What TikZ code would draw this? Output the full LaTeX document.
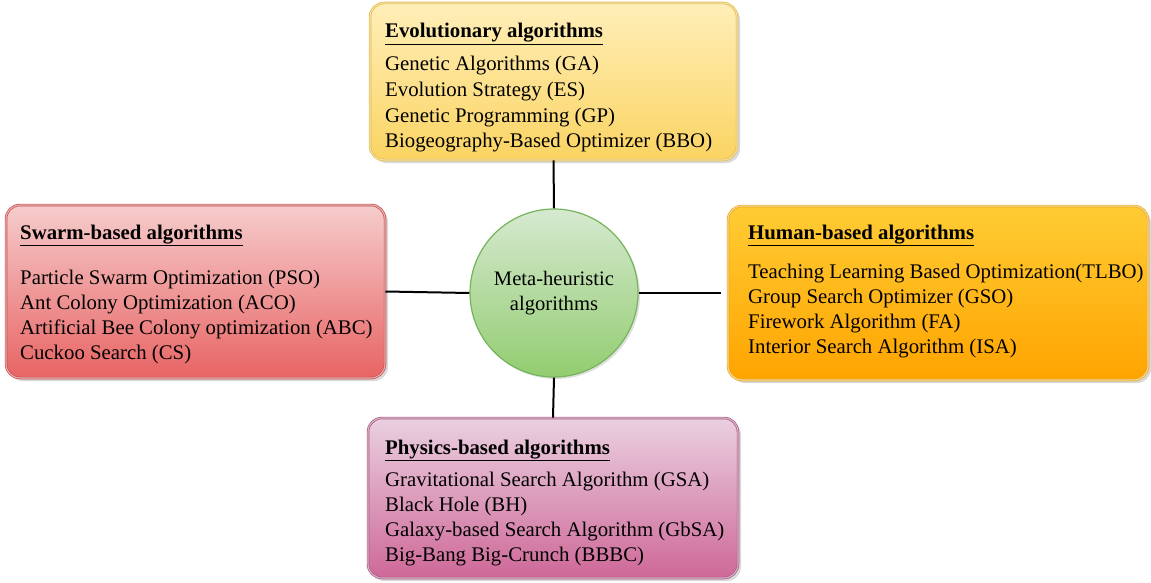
\documentclass[tikz,border=0pt]{standalone}
\usepackage{fontspec}
\setmainfont{Liberation Serif}
\usetikzlibrary{shadows}

\definecolor{evoTop}{RGB}{255,238,185}
\definecolor{evoBot}{RGB}{250,212,98}
\definecolor{evoLine}{RGB}{228,186,72}
\definecolor{swTop}{RGB}{246,204,204}
\definecolor{swBot}{RGB}{232,100,100}
\definecolor{swLine}{RGB}{200,78,78}
\definecolor{huTop}{RGB}{255,204,52}
\definecolor{huBot}{RGB}{255,164,0}
\definecolor{huLine}{RGB}{232,168,30}
\definecolor{phTop}{RGB}{234,208,224}
\definecolor{phBot}{RGB}{206,104,152}
\definecolor{phLine}{RGB}{168,88,128}
\definecolor{ctTop}{RGB}{214,233,208}
\definecolor{ctBot}{RGB}{146,205,112}
\definecolor{ctLine}{RGB}{118,180,92}

\tikzset{
  catbox/.style n args={3}{rectangle, rounded corners=14pt,
    top color=#1, bottom color=#2, draw=#3, double=#3!45!white,
    double distance=1.1pt, line width=0.7pt, inner sep=0pt,
    drop shadow={opacity=0.3, shadow xshift=3pt, shadow yshift=-3pt}},
  hub/.style={circle, top color=ctTop, bottom color=ctBot, draw=ctLine,
    line width=1.2pt, minimum size=168pt, inner sep=0pt, align=center,
    font=\fontsize{20.6}{25}\selectfont,
    drop shadow={opacity=0.25, shadow xshift=2pt, shadow yshift=-2pt}},
  heading/.style={anchor=base west, inner sep=0pt, font=\fontsize{20.8}{24}\selectfont\bfseries},
  entry/.style={anchor=base west, inner sep=0pt, font=\fontsize{20.8}{24}\selectfont},
  link/.style={line width=2pt, black},
}

\begin{document}
\begin{tikzpicture}[x=1pt, y=-1pt]
  \useasboundingbox (0,0) rectangle (1151,583);

  % category boxes
  \node[catbox={evoTop}{evoBot}{evoLine}, minimum width=367pt, minimum height=157pt] (evo) at (553.5,81.5) {};
  \node[catbox={swTop}{swBot}{swLine}, minimum width=379pt, minimum height=173pt] (swarm) at (195.5,291.5) {};
  \node[catbox={huTop}{huBot}{huLine}, minimum width=420pt, minimum height=174pt] (human) at (938,293) {};
  \node[catbox={phTop}{phBot}{phLine}, minimum width=370pt, minimum height=160pt] (phys) at (553,498) {};

  % central hub
  \node[hub] (core) at (554,293) {Meta-heuristic\\algorithms};

  % connectors
  \draw[link] (evo.south) -- (core.north);
  \draw[link] (core.west) -- (swarm.east);
  \draw[link, shorten >=7pt] (core.east) -- (human.west);
  \draw[link] (core.south) -- (phys.north);

  % evolutionary
  \node[heading] (evo-title) at (385,38) {\underline{Evolutionary algorithms}};
  \foreach \t [count=\i] in {Genetic Algorithms (GA), Evolution Strategy (ES),
      Genetic Programming (GP), Biogeography-Based Optimizer (BBO)}
    \node[entry] (evo-\i) at (385,{71+25.6*(\i-1)}) {\t};

  % swarm-based
  \node[heading] (swarm-title) at (20,239) {\underline{Swarm-based algorithms}};
  \foreach \t [count=\i] in {Particle Swarm Optimization (PSO), Ant Colony Optimization (ACO),
      Artificial Bee Colony optimization (ABC), Cuckoo Search (CS)}
    \node[entry] (swarm-\i) at (20,{284+25*(\i-1)}) {\t};

  % human-based
  \node[heading] (human-title) at (748,239) {\underline{Human-based algorithms}};
  \foreach \t [count=\i] in {Teaching Learning Based Optimization(TLBO), Group Search Optimizer (GSO),
      Firework Algorithm (FA), Interior Search Algorithm (ISA)}
    \node[entry] (human-\i) at (748,{278+25*(\i-1)}) {\t};

  % physics-based
  \node[heading] (phys-title) at (385,454) {\underline{Physics-based algorithms}};
  \foreach \t [count=\i] in {Gravitational Search Algorithm (GSA), Black Hole (BH),
      Galaxy-based Search Algorithm (GbSA), Big-Bang Big-Crunch (BBBC)}
    \node[entry] (phys-\i) at (385,{486+25*(\i-1)}) {\t};
\end{tikzpicture}
\end{document}
